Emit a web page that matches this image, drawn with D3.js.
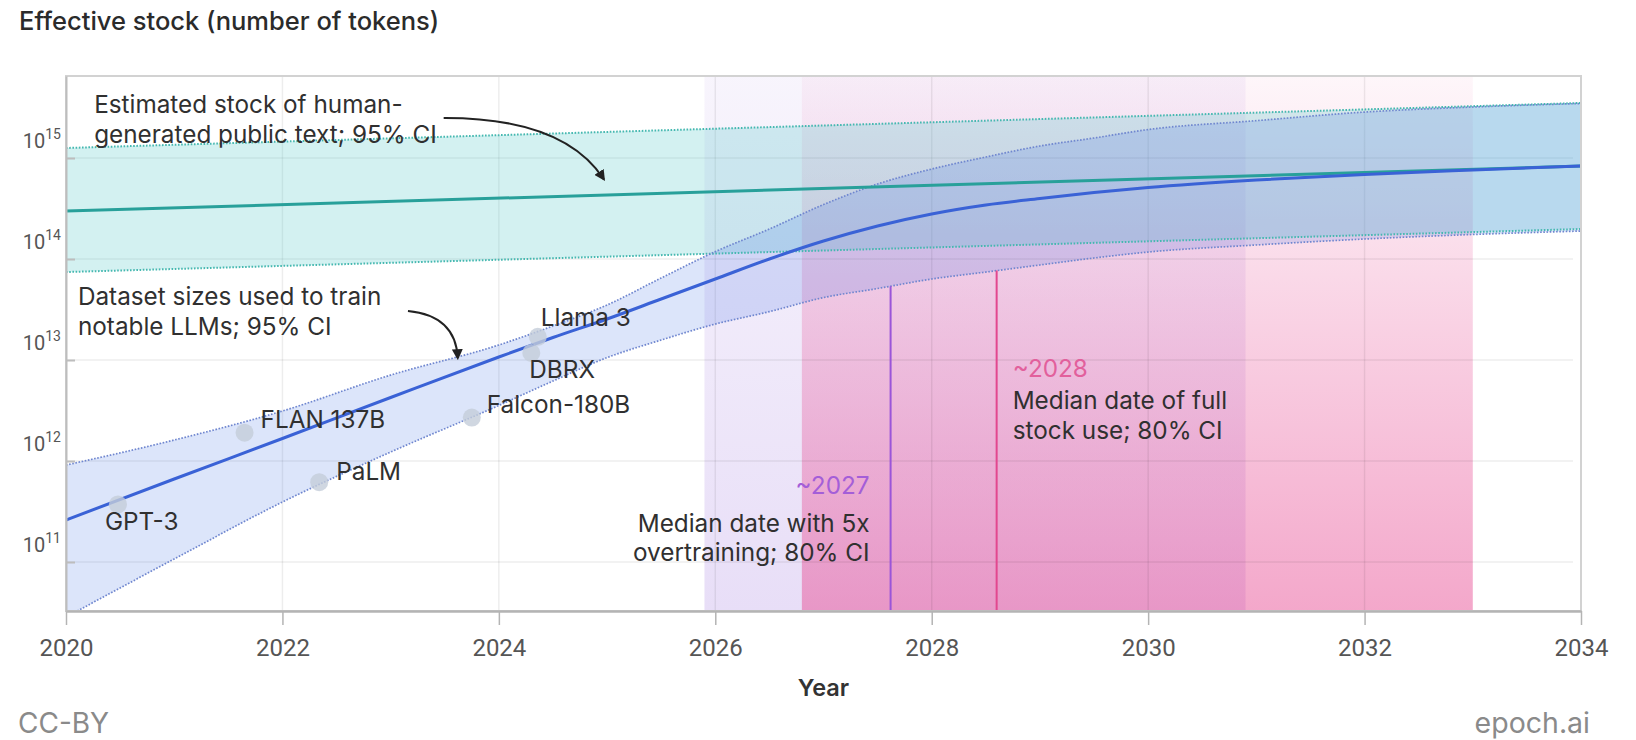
<!DOCTYPE html>
<html>
<head>
<meta charset="utf-8">
<script src="https://cdn.jsdelivr.net/npm/d3@7"></script>
<style>
  html, body { margin: 0; padding: 0; background: #ffffff; }
  svg { display: block; font-family: Inter, Roboto, "Noto Sans", sans-serif; }
  .num { font-family: Roboto, "Noto Sans", sans-serif; }
</style>
</head>
<body>
<svg id="chart" width="1636" height="740"></svg>
<script>
// ---- Data (token counts stored as log10 values) ----

// Projected dataset sizes used to train notable LLMs: median and 95% CI
const datasetYears  = [2020, 2021, 2022, 2023, 2024, 2024.5, 2025, 2025.5, 2026, 2026.5, 2027, 2027.5, 2028, 2028.5, 2029, 2029.5, 2030, 2031, 2032, 2033, 2034];
const datasetMedian = [11.416, 11.822, 12.223, 12.629, 13.030, 13.223, 13.406, 13.604, 13.802, 14.000, 14.178, 14.327, 14.446, 14.535, 14.599, 14.658, 14.708, 14.782, 14.837, 14.881, 14.921];
const datasetLower  = [10.455, 11.030, 11.594, 12.089, 12.550, 12.792, 13.024, 13.198, 13.356, 13.479, 13.618, 13.708, 13.802, 13.871, 13.941, 14.010, 14.069, 14.139, 14.198, 14.243, 14.277];
const datasetUpper  = [11.960, 12.208, 12.495, 12.851, 13.149, 13.337, 13.545, 13.812, 14.073, 14.297, 14.539, 14.743, 14.891, 15.010, 15.119, 15.198, 15.282, 15.370, 15.455, 15.505, 15.540];

// Estimated stock of human-generated public text: median and 95% CI
const stockYears  = [2020, 2034];
const stockMedian = [14.475, 14.921];
const stockLower  = [13.871, 14.297];
const stockUpper  = [15.099, 15.545];

// Notable models
const modelNames = ["GPT-3", "FLAN 137B", "PaLM", "Falcon-180B", "DBRX", "Llama 3"];
const modelYears = [2020.48, 2021.65, 2022.34, 2023.75, 2024.30, 2024.36];
const modelTokens = [11.57, 12.28, 11.79, 12.43, 13.07, 13.23];

// Date at which the stock is exhausted: median and 80% CI
const overtrainCI = [2025.9, 2030.9];
const overtrainMedian = 2027.62;
const fullStockCI = [2026.8, 2033.0];
const fullStockMedian = 2028.6;

// Axis ticks
const xTicks = [2020, 2022, 2024, 2026, 2028, 2030, 2032, 2034];
const yTickExponents = [11, 12, 13, 14, 15];

// ---- Layout ----
const plot = { left: 66, right: 1581, top: 76, bottom: 611 };
const tok = e => Math.pow(10, e);
const textSize = 24.3;

const svg = d3.select("#chart");
const x = d3.scaleLinear().domain([2020, 2034]).range([plot.left, plot.right]);
const y = d3.scaleLog().domain([tok(10.515), tok(15.812)]).range([plot.bottom, plot.top]);

const defs = svg.append("defs");
defs.append("clipPath").attr("id", "plotClip")
  .append("rect")
  .attr("x", plot.left).attr("y", plot.top)
  .attr("width", plot.right - plot.left).attr("height", plot.bottom - plot.top);

function verticalGradient(id, color, opTop, opBottom) {
  const g = defs.append("linearGradient").attr("id", id)
    .attr("gradientUnits", "userSpaceOnUse")
    .attr("x1", 0).attr("x2", 0).attr("y1", plot.top).attr("y2", plot.bottom);
  g.append("stop").attr("offset", 0).attr("stop-color", color).attr("stop-opacity", opTop);
  g.append("stop").attr("offset", 1).attr("stop-color", color).attr("stop-opacity", opBottom);
}
verticalGradient("gradOvertrain", "rgb(150,105,220)", 0.07, 0.22);
verticalGradient("gradFullStock", "rgb(232,80,150)", 0.05, 0.50);

const arrowHead = defs.append("marker").attr("id", "arrowHead")
  .attr("viewBox", "0 0 10 10").attr("refX", 8).attr("refY", 5)
  .attr("markerWidth", 5.5).attr("markerHeight", 5.5)
  .attr("markerUnits", "strokeWidth").attr("orient", "auto");
arrowHead.append("path").attr("d", "M0,0 L10,5 L0,10 Z").attr("fill", "#222");

const body = svg.append("g").attr("clip-path", "url(#plotClip)");

// ---- Exhaustion-date windows ----
body.append("rect")
  .attr("x", x(overtrainCI[0])).attr("y", plot.top)
  .attr("width", x(overtrainCI[1]) - x(overtrainCI[0])).attr("height", plot.bottom - plot.top)
  .attr("fill", "url(#gradOvertrain)");
body.append("rect")
  .attr("x", x(fullStockCI[0])).attr("y", plot.top)
  .attr("width", x(fullStockCI[1]) - x(fullStockCI[0])).attr("height", plot.bottom - plot.top)
  .attr("fill", "url(#gradFullStock)");

// ---- Grid ----
body.append("g").selectAll("line.vgrid")
  .data(xTicks.slice(1, -1)).join("line")
  .attr("x1", d => x(d)).attr("x2", d => x(d))
  .attr("y1", plot.top).attr("y2", plot.bottom)
  .attr("stroke", "rgba(0,0,0,0.07)").attr("stroke-width", 1.5);
body.append("g").selectAll("line.hgrid")
  .data(yTickExponents).join("line")
  .attr("x1", plot.left).attr("x2", plot.right - 8)
  .attr("y1", d => y(tok(d))).attr("y2", d => y(tok(d)))
  .attr("stroke", "rgba(0,0,0,0.07)").attr("stroke-width", 1.5);

// ---- Bands ----
const stockRows = stockYears.map((yr, i) => ({ yr, lo: stockLower[i], md: stockMedian[i], hi: stockUpper[i] }));
const dataRows = datasetYears.map((yr, i) => ({ yr, lo: datasetLower[i], md: datasetMedian[i], hi: datasetUpper[i] }));

const bandArea = d3.area()
  .x(d => x(d.yr)).y0(d => y(tok(d.lo))).y1(d => y(tok(d.hi)))
  .curve(d3.curveMonotoneX);
const lineOf = key => d3.line().x(d => x(d.yr)).y(d => y(tok(d[key]))).curve(d3.curveMonotoneX);

body.append("path").datum(stockRows).attr("d", bandArea)
  .attr("fill", "rgba(80,200,200,0.25)");
body.append("path").datum(dataRows).attr("d", bandArea)
  .attr("fill", "rgba(60,110,230,0.18)");

["lo", "hi"].forEach(k => {
  body.append("path").datum(stockRows).attr("d", lineOf(k))
    .attr("fill", "none").attr("stroke", "#45b8b0").attr("stroke-width", 2)
    .attr("stroke-dasharray", "1.6,1.6");
  body.append("path").datum(dataRows).attr("d", lineOf(k))
    .attr("fill", "none").attr("stroke", "#6f86cf").attr("stroke-width", 1.7)
    .attr("stroke-dasharray", "1.6,1.6");
});

// ---- Median dates (shown below the dataset band) ----
const belowBand = defs.append("clipPath").attr("id", "belowBand");
belowBand.append("path").datum(dataRows)
  .attr("d", d3.area().x(d => x(d.yr)).y0(plot.bottom).y1(d => y(tok(d.lo))).curve(d3.curveMonotoneX));
const medianLines = svg.append("g").attr("clip-path", "url(#belowBand)");
medianLines.append("line")
  .attr("x1", x(overtrainMedian)).attr("x2", x(overtrainMedian))
  .attr("y1", plot.top).attr("y2", plot.bottom)
  .attr("stroke", "#9a55d8").attr("stroke-width", 2);
medianLines.append("line")
  .attr("x1", x(fullStockMedian)).attr("x2", x(fullStockMedian))
  .attr("y1", plot.top).attr("y2", plot.bottom)
  .attr("stroke", "#e2478f").attr("stroke-width", 2);

// ---- Median curves ----
body.append("path").datum(stockRows).attr("d", lineOf("md"))
  .attr("fill", "none").attr("stroke", "#28a09a").attr("stroke-width", 3);
body.append("path").datum(dataRows).attr("d", lineOf("md"))
  .attr("fill", "none").attr("stroke", "#3a62d6").attr("stroke-width", 3);

// ---- Models ----
const models = modelNames.map((name, i) => ({ name, yr: modelYears[i], v: modelTokens[i] }));
const labelOffset = {
  "GPT-3": [-13, 26], "FLAN 137B": [16, -5], "PaLM": [17, -2],
  "Falcon-180B": [15, -5], "DBRX": [-2, 25], "Llama 3": [3, -11]
};
body.append("g").selectAll("circle").data(models).join("circle")
  .attr("cx", d => x(d.yr)).attr("cy", d => y(tok(d.v))).attr("r", 9)
  .attr("fill", "#c4cdd9").attr("fill-opacity", 0.8);
svg.append("g").selectAll("text").data(models).join("text")
  .attr("x", d => x(d.yr) + labelOffset[d.name][0])
  .attr("y", d => y(tok(d.v)) + labelOffset[d.name][1])
  .attr("font-size", textSize).attr("fill", "#303030")
  .text(d => d.name);

// ---- Annotations ----
const note = (lines, xPos, yPos, anchor, color, lineGap) => {
  const t = svg.append("text").attr("font-size", textSize).attr("fill", color || "#303030")
    .attr("text-anchor", anchor || "start");
  lines.forEach((s, i) => t.append("tspan").attr("x", xPos).attr("y", yPos + i * (lineGap || 30)).text(s));
};

note(["Estimated stock of human-", "generated public text; 95% CI"], x(2020.26), y(tok(15.446)));
note(["Dataset sizes used to train", "notable LLMs; 95% CI"], x(2020.11), y(tok(13.545)), "start", "#303030", 30);

note(["~2027"], x(overtrainMedian) - 21, y(tok(11.673)), "end", "#a45ed8");
note(["Median date with 5x", "overtraining; 80% CI"], x(overtrainMedian) - 21, y(tok(11.673)) + 38, "end", "#303030", 29);
note(["~2028"], x(fullStockMedian) + 16, y(tok(12.832)), "start", "#e2609c");
note(["Median date of full", "stock use; 80% CI"], x(fullStockMedian) + 16, y(tok(12.832)) + 32, "start", "#303030", 30);

const arrowPath = (a, c, b) => {
  const p = d3.path();
  p.moveTo(x(a[0]), y(tok(a[1])));
  p.quadraticCurveTo(x(c[0]), y(tok(c[1])), x(b[0]), y(tok(b[1])));
  return p.toString();
};
svg.append("path")
  .attr("d", arrowPath([2023.49, 15.396], [2024.60, 15.40], [2024.97, 14.79]))
  .attr("fill", "none").attr("stroke", "#222").attr("stroke-width", 2)
  .attr("marker-end", "url(#arrowHead)");
svg.append("path")
  .attr("d", arrowPath([2023.16, 13.485], [2023.60, 13.44], [2023.62, 13.02]))
  .attr("fill", "none").attr("stroke", "#222").attr("stroke-width", 2)
  .attr("marker-end", "url(#arrowHead)");

// ---- Frame and axes ----
svg.append("rect")
  .attr("x", plot.left).attr("y", plot.top)
  .attr("width", plot.right - plot.left).attr("height", plot.bottom - plot.top)
  .attr("fill", "none").attr("stroke", "#d2d2d2").attr("stroke-width", 2);

const xAxis = svg.append("g").attr("transform", `translate(0,${plot.bottom})`)
  .call(d3.axisBottom(x).tickValues(xTicks).tickFormat(d3.format("d")).tickSizeInner(14).tickSizeOuter(0).tickPadding(14));
xAxis.select(".domain").attr("stroke", "#b4b4b4").attr("stroke-width", 2.5);
xAxis.selectAll(".tick line").attr("stroke", "#b4b4b4").attr("stroke-width", 1.5);
xAxis.selectAll(".tick text").attr("class", "num").attr("font-size", 24).attr("fill", "#555").attr("font-family", null);

const yAxis = svg.append("g").attr("transform", `translate(${plot.left},0)`)
  .call(d3.axisLeft(y).tickValues(yTickExponents.map(tok)).tickSizeInner(-9).tickSizeOuter(0).tickFormat(""));
yAxis.select(".domain").attr("stroke", "#bdbdbd").attr("stroke-width", 2);
yAxis.selectAll(".tick line").attr("stroke", "#bdbdbd").attr("stroke-width", 2);

const yLabels = svg.append("g").selectAll("text").data(yTickExponents).join("text")
  .attr("class", "num")
  .attr("x", plot.left - 5).attr("y", d => y(tok(d)) - 10)
  .attr("text-anchor", "end").attr("fill", "#555");
yLabels.append("tspan").attr("font-size", 20).text("10");
yLabels.append("tspan").attr("font-size", 14).attr("dy", -9).text(d => d);

// ---- Titles and credits ----
svg.append("text").attr("x", 19).attr("y", 30)
  .attr("font-size", 25.5).attr("font-weight", 500).attr("fill", "#2b2b2b")
  .text("Effective stock (number of tokens)");
svg.append("text").attr("x", (plot.left + plot.right) / 2).attr("y", 696)
  .attr("text-anchor", "middle").attr("font-size", 23.5).attr("font-weight", 600).attr("fill", "#333")
  .text("Year");
svg.append("text").attr("x", 18).attr("y", 733)
  .attr("font-size", 28).attr("fill", "#8a8a8a").text("CC-BY");
svg.append("text").attr("x", 1590).attr("y", 733).attr("text-anchor", "end")
  .attr("font-size", 28.5).attr("fill", "#8a8a8a").text("epoch.ai");
</script>
</body>
</html>
